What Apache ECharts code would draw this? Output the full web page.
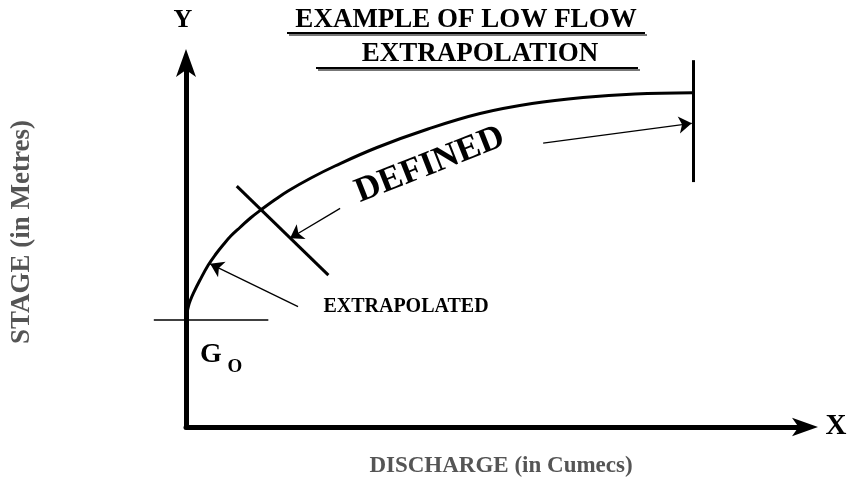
<!DOCTYPE html>
<html>
<head>
<meta charset="utf-8">
<title>Example of low flow extrapolation</title>
<script src="https://cdn.jsdelivr.net/npm/echarts@6/dist/echarts.min.js"></script>
<style>
    html, body { margin: 0; padding: 0; background: #fff; }
    #chart { width: 852px; height: 485px; }
</style>
</head>
<body>
<div id="chart"></div>
<script>
// stage-discharge curve, discharge (x) vs stage (y), both on a 0-100 scale
const ratingCurve = [
    [0, 29.45], [0.19, 31.5], [0.4, 33.15], [0.69, 34.66], [1.18, 36.63],
    [2.26, 40.27], [3.6, 44.38], [4.77, 47.26], [5.98, 49.86], [7.27, 52.38],
    [8.72, 54.66], [10.42, 57.26], [12.23, 59.64], [14.3, 62.19], [16.48, 64.66],
    [20.19, 68.22], [24.07, 71.51], [30.86, 76.58], [39.1, 81.64], [47.5, 85.89],
    [55.9, 88.63], [64.14, 90.27], [72.54, 91.23], [81.91, 91.59],
];
const gaugeZeroLine = [[-5.2, 29.45], [13.3, 29.45]];   // G0
const extrapLimit = [[8.2, 66.0], [23.0, 41.6]];        // end of extrapolated part
const definedLimit = [[81.9, 100.5], [81.9, 67.1]];     // upper end of defined part

// leader arrows, [tail, head]
const arrowExtrapolated = [[18.1, 33.0], [3.9, 44.7]];
const arrowDefinedLow = [[24.9, 59.9], [16.8, 51.7]];
const arrowDefinedHigh = [[57.7, 77.8], [81.7, 83.2]];

const titleLines = ['EXAMPLE OF LOW FLOW', 'EXTRAPOLATION'];
const xName = 'DISCHARGE (in Cumecs)';
const yName = 'STAGE (in Metres)';

const SERIF = '"Liberation Serif", "Times New Roman", serif';
const chart = echarts.init(document.getElementById('chart'));

function segment(coords, width, head) {
    return {
        type: 'lines',
        coordinateSystem: 'cartesian2d',
        silent: true,
        clip: false,
        symbol: ['none', head ? 'arrow' : 'none'],
        symbolSize: 13,
        lineStyle: { color: '#000', width: width, opacity: 1 },
        data: [{ coords: coords }],
    };
}

function label(text, x, y, size, extra) {
    return Object.assign({
        type: 'text',
        x: x,
        y: y,
        silent: true,
        style: {
            text: text,
            font: 'bold ' + size + 'px ' + SERIF,
            fill: '#000',
            align: 'center',
            verticalAlign: 'middle',
        },
    }, extra || {});
}

const shadow = { shadowColor: '#777', shadowOffsetX: 2, shadowOffsetY: 2 };
const titleStyle = { textShadowColor: '#777', textShadowOffsetX: 2, textShadowOffsetY: 2 };

const t1 = label(titleLines[0], 466, 20, 27);
Object.assign(t1.style, titleStyle);
const t2 = label(titleLines[1], 480, 54, 27);
Object.assign(t2.style, titleStyle);

const stage = label(yName, 22, 232, 27, { rotation: Math.PI / 2 });
stage.style.fill = '#555';
const discharge = label(xName, 501, 466, 23);
discharge.style.fill = '#555';

const defined = label('DEFINED', 430, 165, 35, { rotation: 0.375 });

chart.setOption({
    animation: false,
    grid: { left: 186, right: 47, top: 62, bottom: 58 },
    xAxis: {
        type: 'value', min: 0, max: 100,
        axisLine: {
            lineStyle: { color: '#000', width: 5 },
            symbol: ['none', 'arrow'],
            symbolSize: [14, 26],
            symbolOffset: [0, 13],
        },
        axisTick: { show: false },
        axisLabel: { show: false },
        splitLine: { show: false },
    },
    yAxis: {
        type: 'value', min: 0, max: 100,
        axisLine: {
            show: true,
            lineStyle: { color: '#000', width: 5 },
            symbol: ['none', 'arrow'],
            symbolSize: [15, 28],
            symbolOffset: [0, 13],
        },
        axisTick: { show: false },
        axisLabel: { show: false },
        splitLine: { show: false },
    },
    series: [
        {
            type: 'line',
            data: ratingCurve,
            smooth: 0.4,
            showSymbol: false,
            clip: false,
            silent: true,
            lineStyle: { color: '#000', width: 3 },
        },
        segment(gaugeZeroLine, 1.5),
        segment(extrapLimit, 3),
        segment(definedLimit, 3),
        segment(arrowExtrapolated, 1.3, true),
        segment(arrowDefinedLow, 1.3, true),
        segment(arrowDefinedHigh, 1.3, true),
    ],
    graphic: [
        t1,
        t2,
        { type: 'line', silent: true, shape: { x1: 287, y1: 33, x2: 645, y2: 33 },
          style: Object.assign({ stroke: '#000', lineWidth: 2 }, shadow) },
        { type: 'line', silent: true, shape: { x1: 316, y1: 68, x2: 638, y2: 68 },
          style: Object.assign({ stroke: '#000', lineWidth: 2 }, shadow) },
        label('Y', 183, 20, 26),
        label('X', 836, 427, 29),
        stage,
        discharge,
        defined,
        label('EXTRAPOLATED', 406, 307, 20),
        label('G', 211, 355, 28),
        label('O', 235, 367, 19),
    ],
});

window.addEventListener('resize', () => chart.resize());
</script>
</body>
</html>
